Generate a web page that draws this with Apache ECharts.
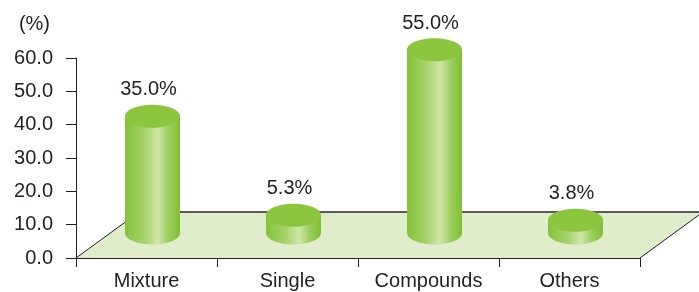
<!DOCTYPE html>
<html>
<head>
<meta charset="utf-8">
<script src="https://cdn.jsdelivr.net/npm/echarts@6/dist/echarts.min.js"></script>
<style>
  html, body { margin: 0; padding: 0; background: #fff; }
  #chart { width: 699px; height: 292px; }
</style>
</head>
<body>
<div id="chart"></div>
<script>
const categories = ['Mixture', 'Single', 'Compounds', 'Others']
const shares = [35.0, 5.3, 55.0, 3.8]
const yTicks = [0, 10, 20, 30, 40, 50, 60]

const FONT = '"Liberation Sans", Arial, sans-serif'
const TEXT = '#231f20'
const FS = 20
// floor depth (px) for the fake 3D look
const DEPTH_X = 63
const DEPTH_Y = 46

const chart = echarts.init(document.getElementById('chart'))

// floor parallelogram behind the cylinders
const renderFloor = (params, api) => {
  const cs = params.coordSys
  const x0 = cs.x, x1 = cs.x + cs.width, y0 = cs.y + cs.height
  return {
    type: 'group',
    children: [
      {
        type: 'polygon',
        shape: { points: [[x0, y0], [x1, y0], [x1 + DEPTH_X, y0 - DEPTH_Y], [x0 + DEPTH_X, y0 - DEPTH_Y]] },
        style: { fill: '#e0edcb', stroke: null }
      },
      { type: 'line', shape: { x1: x0, y1: y0, x2: x0 + DEPTH_X, y2: y0 - DEPTH_Y }, style: { stroke: TEXT, lineWidth: 1 } },
      { type: 'line', shape: { x1: x1, y1: y0, x2: x1 + DEPTH_X, y2: y0 - DEPTH_Y }, style: { stroke: TEXT, lineWidth: 1 } },
      { type: 'line', shape: { x1: x0 + DEPTH_X, y1: y0 - DEPTH_Y, x2: x1 + DEPTH_X, y2: y0 - DEPTH_Y }, style: { stroke: '#5b5b5b', lineWidth: 2 } }
    ]
  }
}

// cylinder per category
const renderCylinder = (params, api) => {
  const idx = api.value(0)
  const val = api.value(1)
  const base = api.coord([idx, 0])
  const top = api.coord([idx, val])
  const cx = base[0] + 6
  const baseY = base[1] - 25
  const topY = top[1] - 25
  const rx = 27.5
  const ry = 11.5
  const body = new echarts.graphic.LinearGradient(0, 0, 1, 0, [
    { offset: 0, color: '#86c23b' },
    { offset: 0.35, color: '#a5d26a' },
    { offset: 0.6, color: '#cfe6a8' },
    { offset: 0.8, color: '#9ccd5c' },
    { offset: 1, color: '#80be35' }
  ])
  return {
    type: 'group',
    children: [
      { type: 'ellipse', shape: { cx: cx, cy: baseY, rx: rx, ry: ry }, style: { fill: body } },
      { type: 'rect', shape: { x: cx - rx, y: topY, width: rx * 2, height: baseY - topY }, style: { fill: body } },
      { type: 'ellipse', shape: { cx: cx, cy: topY, rx: rx, ry: ry }, style: { fill: '#8cc63f' } },
      {
        type: 'text',
        style: {
          text: val.toFixed(1) + '%',
          x: cx - 4,
          y: topY - ry - 5,
          align: 'center',
          verticalAlign: 'bottom',
          fill: TEXT,
          font: FS + 'px ' + FONT
        }
      }
    ]
  }
}

const option = {
  animation: false,
  backgroundColor: '#fff',
  grid: { left: 76, right: 59, top: 58, bottom: 34 },
  xAxis: {
    type: 'category',
    data: categories,
    boundaryGap: true,
    axisLine: { lineStyle: { color: TEXT, width: 1 } },
    axisTick: { show: true, length: 9, lineStyle: { color: TEXT } },
    axisLabel: { color: TEXT, fontSize: FS, fontFamily: FONT, margin: 13 }
  },
  yAxis: {
    type: 'value',
    min: yTicks[0],
    max: yTicks[yTicks.length - 1],
    interval: 10,
    name: '(%)',
    nameLocation: 'end',
    nameGap: 24,
    nameTextStyle: { color: TEXT, fontSize: FS, fontFamily: FONT, align: 'right', padding: [0, 26, 0, 0] },
    axisLine: { show: true, lineStyle: { color: TEXT, width: 1 } },
    axisTick: { show: true, length: 10, lineStyle: { color: TEXT } },
    axisLabel: { color: TEXT, fontSize: FS, fontFamily: FONT, margin: 23, formatter: v => v.toFixed(1) },
    splitLine: { show: false }
  },
  series: [
    {
      type: 'custom',
      z: -1,
      silent: true,
      renderItem: renderFloor,
      data: [0],
      clip: false
    },
    {
      type: 'custom',
      z: 3,
      renderItem: renderCylinder,
      data: shares.map((v, i) => [i, v]),
      encode: { x: 0, y: 1 },
      clip: false
    }
  ]
}

chart.setOption(option)
</script>
</body>
</html>
